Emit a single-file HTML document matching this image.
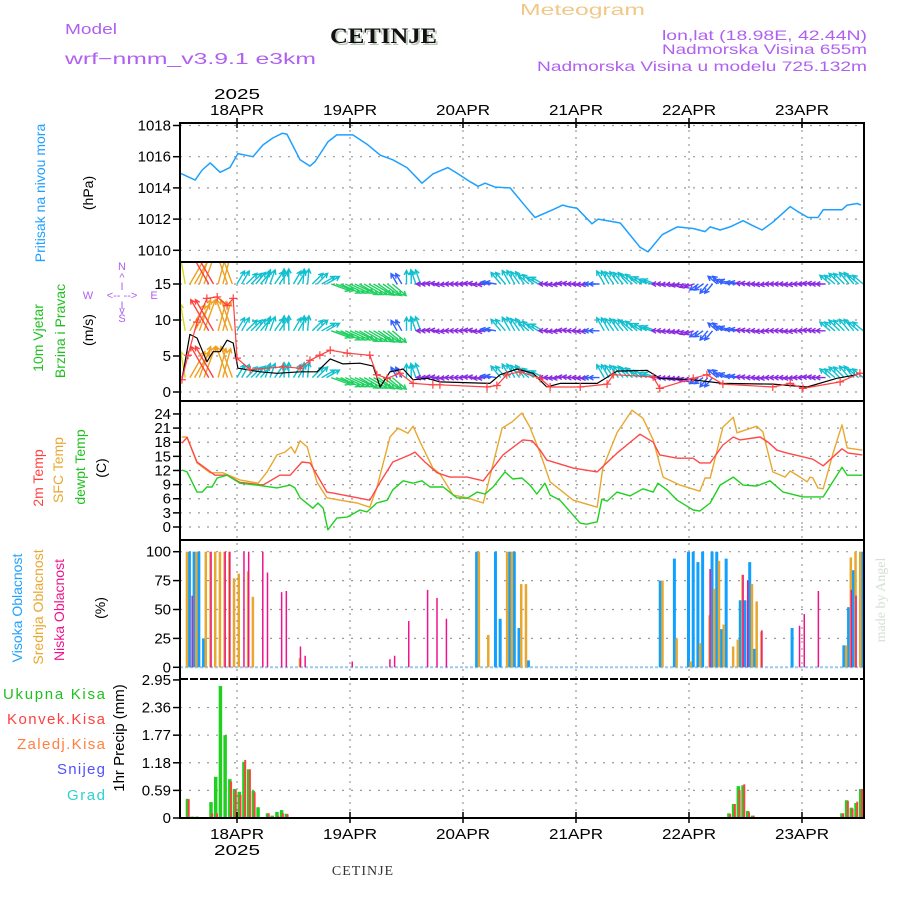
<!DOCTYPE html>
<html><head><meta charset="utf-8"><title>Meteogram CETINJE</title>
<style>
html,body{margin:0;padding:0;background:#fff;}
svg{display:block;font-family:"Liberation Sans",sans-serif;}
</style></head>
<body>
<svg id="chart" width="900" height="900" viewBox="0 0 900 900" xmlns="http://www.w3.org/2000/svg">
<rect x="0" y="0" width="900" height="900" fill="#fff"/>
<g id="grid"></g>
<g id="marks"></g>
<g id="axes"></g>

<text x="65" y="34" font-size="15" fill="#b060f0" textLength="52" lengthAdjust="spacingAndGlyphs">Model</text>
<text x="65" y="64" font-size="16" fill="#b060f0" textLength="251" lengthAdjust="spacingAndGlyphs">wrf−nmm_v3.9.1  e3km</text>
<text x="332" y="45" font-size="22" font-weight="bold" font-family="Liberation Serif,serif" fill="#b8c8b8" textLength="107" lengthAdjust="spacingAndGlyphs">CETINJE</text>
<text x="330" y="43" font-size="22" font-weight="bold" font-family="Liberation Serif,serif" fill="#111" textLength="107" lengthAdjust="spacingAndGlyphs">CETINJE</text>
<text x="520" y="15" font-size="16" fill="#f0c888" textLength="125" lengthAdjust="spacingAndGlyphs">Meteogram</text>
<text x="867" y="40" font-size="14" fill="#b060f0" text-anchor="end" textLength="205" lengthAdjust="spacingAndGlyphs">lon,lat (18.98E, 42.44N)</text>
<text x="867" y="54" font-size="14" fill="#b060f0" text-anchor="end" textLength="205" lengthAdjust="spacingAndGlyphs">Nadmorska Visina 655m</text>
<text x="867" y="71" font-size="14" fill="#b060f0" text-anchor="end" textLength="330" lengthAdjust="spacingAndGlyphs">Nadmorska Visina u modelu 725.132m</text>

<text transform="translate(45,193) rotate(-90)" font-size="14" fill="#20a0ff" text-anchor="middle">Pritisak na nivou mora</text>
<text transform="translate(93,193) rotate(-90)" font-size="14" fill="#000" text-anchor="middle">(hPa)</text>
<text transform="translate(43,338) rotate(-90)" font-size="14" fill="#20c020" text-anchor="middle">10m Vjetar</text>
<text transform="translate(65,331) rotate(-90)" font-size="14" fill="#20c020" text-anchor="middle">Brzina i Pravac</text>
<text transform="translate(93,330) rotate(-90)" font-size="14" fill="#000" text-anchor="middle">(m/s)</text>
<g font-size="11" fill="#b060f0" text-anchor="middle">
<text x="122" y="270">N</text><text x="122" y="281">^</text><text x="122" y="290">I</text>
<text x="88" y="299">W</text><text x="122" y="299">&lt;-- --&gt;</text><text x="154" y="299">E</text>
<text x="122" y="309">I</text><text x="122" y="314">v</text><text x="122" y="322">S</text>
</g>
<text transform="translate(43,478) rotate(-90)" font-size="14" fill="#ff4040" text-anchor="middle">2m Temp</text>
<text transform="translate(63,470) rotate(-90)" font-size="14" fill="#e8a830" text-anchor="middle">SFC Temp</text>
<text transform="translate(85,467) rotate(-90)" font-size="14" fill="#20c020" text-anchor="middle">dewpt Temp</text>
<text transform="translate(106,468) rotate(-90)" font-size="14" fill="#000" text-anchor="middle">(C)</text>
<text transform="translate(22,608) rotate(-90)" font-size="14" fill="#20a0ff" text-anchor="middle">Visoka Oblacnost</text>
<text transform="translate(43,607) rotate(-90)" font-size="14" fill="#e8a830" text-anchor="middle">Srednja Oblacnost</text>
<text transform="translate(64,610) rotate(-90)" font-size="14" fill="#f0148c" text-anchor="middle">Niska Oblacnost</text>
<text transform="translate(105,608) rotate(-90)" font-size="14" fill="#000" text-anchor="middle">(%)</text>
<text x="105" y="699" font-size="15" fill="#20c020" text-anchor="end" textLength="102" lengthAdjust="spacing">Ukupna Kisa</text>
<text x="105" y="724" font-size="15" fill="#ff4040" text-anchor="end" textLength="98" lengthAdjust="spacing">Konvek.Kisa</text>
<text x="105" y="749" font-size="15" fill="#ff8040" text-anchor="end" textLength="88" lengthAdjust="spacing">Zaledj.Kisa</text>
<text x="105" y="774" font-size="15" fill="#5050ff" text-anchor="end" textLength="48" lengthAdjust="spacing">Snijeg</text>
<text x="105" y="800" font-size="15" fill="#30d0d0" text-anchor="end" textLength="38" lengthAdjust="spacing">Grad</text>
<text transform="translate(124,738) rotate(-90)" font-size="15" fill="#000" text-anchor="middle">1hr Precip (mm)</text>
<text x="363" y="875" font-size="14" font-family="Liberation Serif,serif" fill="#333" text-anchor="middle" letter-spacing="1">CETINJE</text>
<text transform="translate(885,600) rotate(-90)" font-size="14" font-family="Liberation Serif,serif" fill="#d4e0d4" text-anchor="middle">made by Angel</text>
</svg>

<script>
// ---------- data ----------
const dayLabels = ['18APR','19APR','20APR','21APR','22APR','23APR'];
const dayHours = [0,24,48,72,96,120];
const pressTicks = [1010,1012,1014,1016,1018];
const windTicks = [0,5,10,15];
const tempTicks = [0,3,6,9,12,15,18,21,24];
const cloudTicks = [0,25,50,75,100];
const precipTicks = [0,0.59,1.18,1.77,2.36,2.95];

const pressHours = [-12.1,-8.9,-7.4,-5.7,-3.6,-1.5,0.2,3.4,5.5,7.6,9.6,10.6,13.4,15.5,16.6,19.3,21.2,24.6,27.6,30.4,33.1,36.1,39.3,41.6,44.8,46.7,49.5,51.2,52.7,54.8,58,61.6,63.3,67.1,69.2,70.3,72.2,75.4,76.7,81.4,85.6,87.3,90.3,93.5,96.9,99.4,100.5,102.6,104.7,107.5,109.4,111.5,113.8,117.5,119,121.3,123.4,124.5,128.5,129.6,131.7,132.5];
const pressVals = [1014.95,1014.5,1015.15,1015.6,1015.0,1015.3,1016.2,1016.0,1016.75,1017.2,1017.5,1017.45,1015.8,1015.4,1015.7,1016.95,1017.4,1017.4,1016.8,1016.1,1015.8,1015.3,1014.3,1014.9,1015.3,1014.95,1014.4,1014.1,1014.3,1014.05,1014.0,1012.7,1012.1,1012.6,1012.9,1012.8,1012.7,1011.7,1012.0,1011.75,1010.2,1009.9,1011.0,1011.5,1011.4,1011.2,1011.5,1011.3,1011.5,1011.9,1011.6,1011.3,1011.8,1012.8,1012.5,1012.1,1012.1,1012.6,1012.6,1012.9,1013.0,1012.9];

const speedHours = [-11.7,-10,-8.5,-6.4,-5.1,-3.6,-2.1,-0.8,0.2,4.9,8.5,13.4,17,19.8,22.5,26.1,28.9,30.4,32.5,35.3,37.4,40.4,43.1,53.7,55.9,59.5,62.9,65.8,68.6,76.5,80.7,87.1,89.8,96.9,103.2,113.8,121.1,127.4,131.7];
const speedVals = [1.7,8,7.5,4.2,5.6,5.6,7.2,6.8,3.3,2.8,2.6,2.8,2.8,4.6,3.9,4,3.6,0.7,2.8,3.2,1.7,1.9,1.4,1.2,2.4,3.2,2.6,0.7,1.2,1.2,2.9,3,1.9,1.7,1.2,1.1,0.7,1.9,2.4];
const gustHours = [-11.7,-10.4,-8.5,-6.4,-4.2,-2.1,-0.8,0,2.8,9.8,13.4,15.5,17.6,19.8,23.4,28.2,29.7,31.9,34.6,37.4,41.6,43.1,53.1,55.2,57.3,60.1,64.4,66.5,72.9,78.6,79.9,88.4,89.8,96.9,99.8,103.2,113.8,117.5,120.2,128.1,132.3];
const gustVals = [1.7,5.1,9.7,13,13.2,12,13,4.7,3.1,3.5,3.3,4.4,5.1,5.8,5.4,5.1,2.4,1.9,2.6,1.2,1,1,0.7,0.9,2.4,2.8,1.9,0.7,0.7,1.1,2.4,2.1,0.5,1.9,2.4,1.1,0.7,1.2,0.5,1.4,2.6];
// arrows every 2 hours from -12 to 132 : direction (deg, 0 = toward east, 90 = toward north) and speed (m/s)
const arrowDirs = [100,60,70,120,75,110, 60,45,50,70,55,90,60,85,45,30, -20,-25,-25,-30,-30,-35,-40, 120,90,110, 180,175,185,180,180,175,185,170, 130,120,125,140,150, 180,185,175,180,185,180, 120,125,130,140,150,160, 180,185,190,200,215,230, 140,160,170,175,180,185,180, 180,185,180,175,180, 140,135,130,140];
const arrowSpeeds = [7,8,9,10,8,9, 3,3,3,3,3,3,3,3,3,3, 4.5,5,5,5,5,4.5,4, 2,2.5,3, 1,1,1,1,1,1,1,1.5, 3,3.2,3,2.8,2.5, 1,1,1,1,1,1.5, 3,3,3,3,2.8,2.5, 1,1,1,1.2,1.5,2, 2,2,1.5,1.2,1,1,1, 1,1,1,1,1.2, 2.5,3,3,2.5];
const arrowRows = [15,8.5,2];

const t2Hours = [-11.7,-10.6,-8.5,-4.7,-2.1,0.6,5.5,9.1,11.3,13.8,15.5,19.1,20.4,28.2,30.4,33.1,36.7,37.8,39.9,42.5,45.2,48.9,52.3,56.5,60.7,62.7,64.4,65.8,71.4,76.5,80.7,85.6,88.4,89.8,93.5,96.9,98.3,100.5,103.2,105.4,106.8,111.1,112.8,114.7,116.8,120.2,122.3,124.5,128.5,129.8,132.8];
const t2Vals = [17.8,19,13.8,11,11,9.5,8.9,11,11,13.8,13.6,7.4,7.2,5.7,9.5,13.8,15.3,15.9,13.8,11.5,10.6,10.6,9.8,15.3,18.5,18.3,16.3,14.2,12.5,11.7,15.7,19.7,18,15.3,14.6,14.6,13.6,13.6,17.4,19.1,18.5,19.1,18,16.3,15.7,14.9,14.4,13,16.6,15.7,15.3];
const sfcHours = [-11.7,-10.6,-8.5,-5.7,-3.0,0.6,4.5,6.4,8.5,10.2,11.5,12.3,13.4,14.9,17.0,19.1,21.9,25.5,28.2,29.7,32.5,34.2,36.3,37.4,38.9,41.6,43.1,45.9,48.9,52.3,53.7,56.3,58.4,60.5,62.2,64.4,66.5,71.4,76.5,77.7,80.7,83.9,86.2,88.4,90.5,94.1,98.3,99.4,100.5,103.2,105.4,106.2,110.4,111.7,113.8,116.4,117.5,119.6,121.1,121.7,122.3,123.4,124.5,126.6,128.5,129.6,132.8];
const sfcVals = [19.1,19.1,13.6,11.5,11.5,10,9.3,11.7,15.3,15.9,17,15.7,18.3,17,9.5,6.2,5.7,5.1,4.2,8.3,19.1,21,19.9,21.4,18,12.5,11.3,6.8,6.2,5.1,10.6,21,22.3,24.2,21.2,15.7,9.6,5.7,4.2,12.5,20,24.8,23.1,18.5,10.6,8.9,7.6,10.4,10.4,21.2,23.3,20,21.4,20.2,11.7,10.6,11.9,10.6,9.6,10.6,10.4,8.3,8.1,15.7,21.7,16.8,16.3];
const dewHours = [-11.7,-10.6,-8.5,-7.4,-6.4,-5.3,-4.2,-2.1,0.6,4.2,8.5,11.3,12.3,13.4,16.1,17.2,18.3,19.3,21.2,23.4,26.1,27.6,29.7,31.9,33.1,35.3,37.4,39.3,41.0,43.8,46.7,48.9,51.0,52.7,54.4,56.9,58.6,60.5,62.2,63.7,65.4,66.5,68.6,72.9,74.3,76.5,77.5,78.6,80.7,83.5,86.2,88.4,89.4,91.3,93.5,96.9,98.3,100.5,102.6,105.4,107.5,110.4,113.2,116.0,120.2,124.5,128.5,129.6,132.8];
const dewVals = [12.1,11.7,7.4,7.4,8.5,8.5,10.4,11,9.3,8.9,8.3,8.9,8.3,6.2,4,5.1,4,-0.6,1.9,2.1,3.6,3.2,5.1,5.7,7.9,9.8,9.3,9.8,8.5,8.5,6.2,6.1,7.4,7,8.5,11.7,10.2,10.4,8.9,7,9.3,6.8,5.7,0.8,0.6,1.1,5.9,5.5,7.4,6.6,8.1,7.4,9.3,7.9,5.7,3.6,3.4,5.1,8.9,10.6,8.9,8.7,9.8,7.4,6.4,6.4,12.7,11,11];

const highCloudHours = [-10,-9,-8,-7,51,55,56,58,59,60,62,90,93,96,97,98,99,101,102,103,104,107,108,109,110,118,129,130,131,133];
const highCloudVals = [100,100,100,25,100,100,42,100,100,34,6,75,94,100,100,91,100,100,100,33,94,58,58,91,16,34,19,52,84,100];
const midCloudHours = [-11,-9,-7,-6,-5,-4,-3,-2,-1,0,2,3,13,51,53,57,58,60,61,90,93,96,98,100,101,102,103,105,106,107,109,110,111,129,130,131,132];
const midCloudVals = [100,100,100,100,100,100,100,100,77,81,83,61,8,100,28,100,100,72,72,75,25,5,21,45,68,92,37,18,24,80,72,57,31,19,95,100,100];
const lowCloudHours = [-10,-6,-3,-2,1,2,5,6,9,10,13,14,24,32,33,36,40,42,44,100,107,108,111,119,120,123,130,131];
const lowCloudVals = [62,100,100,100,100,100,100,82,65,66,18,10,5,7,10,40,67,60,42,85,80,75,32,36,46,66,67,62];

const precipHours = [-11,-10,-9,-6,-5,-4,-3,-2,-1,0,1,2,3,4,6,7,8,9,10,104,105,106,107,108,109,128,129,130,131,132];
const totalPrecip = [0.41,0.03,0.03,0.34,0.88,2.82,1.77,0.83,0.62,0.56,1.2,1.04,0.58,0.23,0.1,0.05,0.13,0.17,0.09,0.1,0.3,0.68,0.7,0.15,0.05,0.1,0.38,0.22,0.32,0.62];
const convHours = [-11,-6,-5,-2,-1,0,1,2,3,6,8,9,10,104,105,106,107,108,109,128,129,130,131,132];
const convPrecip = [0.4,0.1,0.1,0.78,0.6,0.5,1.24,1.04,0.55,0.1,0.05,0.1,0.08,0.08,0.3,0.6,0.72,0.12,0.05,0.1,0.36,0.2,0.35,0.62];

// ---------- layout / scales ----------
const L = 180, R = 864;
const panels = {
  press:{top:123,bot:262}, wind:{top:262,bot:401}, temp:{top:401,bot:540}, cloud:{top:540,bot:679}, precip:{top:679,bot:818}
};
const xS = h => 237 + h * 113 / 24;
const yPress = v => 125.5 + (1018 - v) * 15.6;
const yWind = v => 392 - v * 7.2;
const yTemp = v => 527 - v * 4.71;
const yCloud = v => 667.3 - v * 1.156;
const yPrecip = v => 818 - v * 46.8;

const NS = 'http://www.w3.org/2000/svg';
function mk(tag, attrs, parent){
  const e = document.createElementNS(NS, tag);
  for (const k in attrs) e.setAttribute(k, attrs[k]);
  parent.appendChild(e);
  return e;
}
const grid = document.getElementById('grid');
const marks = document.getElementById('marks');
const axes = document.getElementById('axes');

const defs = mk('defs', {}, document.getElementById('chart'));
for (const p in panels){
  const cp = mk('clipPath', {id:'clip-'+p}, defs);
  mk('rect', {x:L, y:panels[p].top, width:R-L, height:panels[p].bot-panels[p].top}, cp);
}

dayHours.forEach((h, i) => {
  const ln = mk('line', {x1:xS(h), x2:xS(h), y1:123, y2:818, stroke:'#999', 'stroke-width':1.2, 'stroke-dasharray':'2,5'}, grid);
  
  
});
function hgrid(ticks, yf, name){
  ticks.forEach(t => {
    const ln = mk('line', {x1:L, x2:R, y1:yf(t), y2:yf(t), stroke:'#999', 'stroke-width':1.2, 'stroke-dasharray':'2,7'}, grid);
    
    
  });
}
hgrid(pressTicks, yPress, 'pressure');
hgrid(windTicks, yWind, 'wind');
hgrid(tempTicks, yTemp, 'temp');
hgrid(cloudTicks.slice(1), yCloud, 'cloud');
hgrid(precipTicks.slice(1,5), yPrecip, 'precip');

function yticks(ticks, yf, name, fmt){
  ticks.forEach(t => {
    const tk = mk('line', {x1:L-7, x2:L, y1:yf(t), y2:yf(t), stroke:'#000', 'stroke-width':1.5}, axes);
    
    
    const tx = mk('text', {x:L-9, y:yf(t)+5, 'font-size':15, 'text-anchor':'end', fill:'#000'}, axes);
    tx.textContent = fmt ? fmt(t) : String(t);
    
    
  });
}
yticks(pressTicks, yPress, 'pressure');
yticks(windTicks, yWind, 'wind');
yticks(tempTicks, yTemp, 'temp');
yticks(cloudTicks, yCloud, 'cloud');
yticks(precipTicks, yPrecip, 'precip', t => t === 0 ? '0' : t.toFixed(2));

dayHours.forEach((h, i) => {
  const x = xS(h);
  const a = mk('text', {x:x, y:115, 'font-size':15, 'text-anchor':'middle', fill:'#000', textLength:54, lengthAdjust:'spacingAndGlyphs'}, axes);
  a.textContent = dayLabels[i];
  
  
  const b = mk('text', {x:x, y:839, 'font-size':15, 'text-anchor':'middle', fill:'#000', textLength:54, lengthAdjust:'spacingAndGlyphs'}, axes);
  b.textContent = dayLabels[i];
  
  
  const t1 = mk('line', {x1:x, x2:x, y1:118, y2:128, stroke:'#000', 'stroke-width':1.5}, axes);
  
  
  const t2 = mk('line', {x1:x, x2:x, y1:812, y2:823, stroke:'#000', 'stroke-width':1.5}, axes);
  
  
});
const yr1 = mk('text', {x:xS(0), y:99, 'font-size':15, 'text-anchor':'middle', fill:'#000', textLength:46, lengthAdjust:'spacingAndGlyphs'}, axes);
yr1.textContent = '2025';


const yr2 = mk('text', {x:xS(0), y:855, 'font-size':15, 'text-anchor':'middle', fill:'#000', textLength:46, lengthAdjust:'spacingAndGlyphs'}, axes);
yr2.textContent = '2025';



const frame = mk('rect', {x:L, y:123, width:R-L, height:818-123, fill:'none', stroke:'#000', 'stroke-width':2}, axes);


[262,401,540].forEach(y => {
  const s = mk('line', {x1:L, x2:R, y1:y, y2:y, stroke:'#000', 'stroke-width':2}, axes);
  
  
});
const pt = mk('line', {x1:L, x2:R, y1:679, y2:679, stroke:'#000', 'stroke-width':2, 'stroke-dasharray':'8,2'}, axes);


const pb = mk('line', {x1:L, x2:R, y1:818, y2:818, stroke:'#000', 'stroke-width':2, 'stroke-dasharray':'8,2'}, marks);



function series(hours, vals, yf, color, name, clip, w){
  const d = hours.map((h, i) => (i ? 'L' : 'M') + xS(h).toFixed(1) + ',' + yf(vals[i]).toFixed(1)).join('');
  const p = mk('path', {d:d, fill:'none', stroke:color, 'stroke-width':w || 1.4, 'stroke-linejoin':'round', 'clip-path':'url(#clip-'+clip+')'}, marks);
  
  
  return p;
}
series(pressHours, pressVals, yPress, '#1ea0ff', 'pressure-line', 'press', 1.5);

function spdColor(s){
  if (s < 1.3) return '#8a2be2';
  if (s < 2.2) return '#3060ff';
  if (s < 3.6) return '#10c0d0';
  if (s < 5.6) return '#20d060';
  if (s < 7.5) return '#d8d820';
  if (s < 9.5) return '#f0a020';
  return '#ff4040';
}
const windG = mk('g', {'clip-path':'url(#clip-wind)'}, marks);


arrowRows.forEach(rowVal => {
  arrowDirs.forEach((dir, i) => {
    const s = arrowSpeeds[i];
    const len = 6 + 3 * s;
    const a = dir * Math.PI / 180;
    const c = spdColor(s);
    [0, 1].forEach(off => {
      const h = -12 + 2 * i + off;
      const x0 = xS(h), y0 = yWind(rowVal);
      const x1 = x0 + len * Math.cos(a), y1 = y0 - len * Math.sin(a);
      const hb = 5;
      const hx1 = x1 - hb * Math.cos(a - 0.5), hy1 = y1 + hb * Math.sin(a - 0.5);
      const hx2 = x1 - hb * Math.cos(a + 0.5), hy2 = y1 + hb * Math.sin(a + 0.5);
      const ar = mk('path', {d:`M${x0},${y0}L${x1},${y1}M${hx1},${hy1}L${x1},${y1}L${hx2},${hy2}`, stroke:c, 'stroke-width':1.4, fill:'none'}, windG);
      
      
    });
  });
});
series(speedHours, speedVals, yWind, '#000', 'wind-speed-line', 'wind', 1.2);
series(gustHours, gustVals, yWind, '#ff4040', 'wind-gust-line', 'wind', 1.2);
const gustG = mk('g', {'clip-path':'url(#clip-wind)', stroke:'#ff4040', 'stroke-width':1.2}, marks);


gustHours.forEach((h, i) => {
  const x = xS(h), y = yWind(gustVals[i]);
  const m = mk('path', {d:`M${x-4},${y}h8M${x},${y-4}v8`}, gustG);
  
  
});

series(sfcHours, sfcVals, yTemp, '#e8a830', 'sfc-temp-line', 'temp', 1.4);
series(t2Hours, t2Vals, yTemp, '#ff4848', 'temp-2m-line', 'temp', 1.4);
series(dewHours, dewVals, yTemp, '#20d020', 'dewpoint-line', 'temp', 1.4);

const base = mk('line', {x1:L, x2:R, y1:yCloud(0), y2:yCloud(0), stroke:'#9ac8f0', 'stroke-width':2, 'stroke-dasharray':'3,2'}, marks);


function bars(hours, vals, yf, color, dx, w, name, clip){
  hours.forEach((h, i) => {
    const y = yf(vals[i]);
    const b = mk('rect', {x:xS(h)+dx, y:y, width:w, height:Math.max(0, yf(0)-y), fill:color, 'clip-path':'url(#clip-'+clip+')'}, marks);
    
    
  });
}
bars(highCloudHours, highCloudVals, yCloud, '#10a0ff', -2, 3, 'high-cloud-bar', 'cloud');
bars(midCloudHours, midCloudVals, yCloud, '#e8a830', 0.5, 2.5, 'mid-cloud-bar', 'cloud');
bars(lowCloudHours, lowCloudVals, yCloud, '#f0148c', 1.5, 1.5, 'low-cloud-bar', 'cloud');

bars(precipHours, totalPrecip, yPrecip, '#20d020', 0.5, 3.5, 'total-precip-bar', 'precip');
bars(convHours, convPrecip, yPrecip, '#ff4040', 2.5, 2, 'convective-precip-bar', 'precip');
</script>
</body></html>
